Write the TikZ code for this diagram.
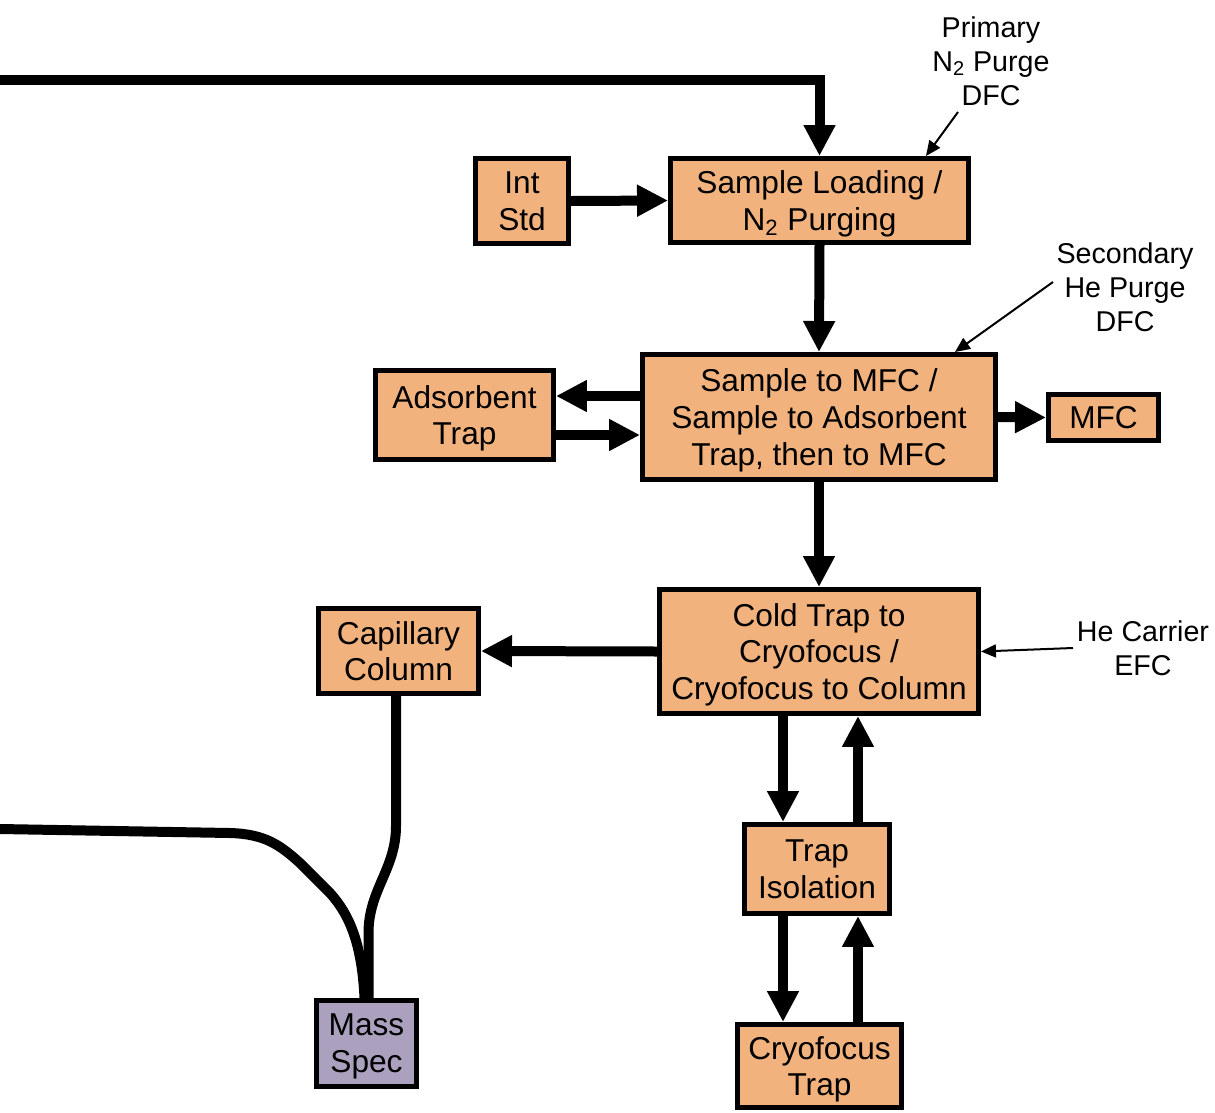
\documentclass[tikz,border=0pt]{standalone}
\usepackage{fontspec}
\setmainfont{Liberation Sans}
\usetikzlibrary{positioning}
\usetikzlibrary{arrows.meta}
\usetikzlibrary{calc}
\definecolor{orangefill}{RGB}{241,178,125}
\definecolor{purplefill}{RGB}{171,160,189}
\begin{document}
\begin{tikzpicture}
	[x=0.02cm, y=-0.02cm,
	stage/.style={draw, line width=0.1cm, fill=orangefill, inner sep=0pt, align=center, font=\fontsize{18}{21}\selectfont, text depth=-0.8pt},
	detector/.style={stage, fill=purplefill},
	note/.style={align=center, inner sep=0pt, font=\fontsize{16.3}{19.3}\selectfont},
	flow/.style={line width=0.2cm, -{Triangle[length=0.62cm,width=0.6cm]}},
	pipe/.style={line width=0.2cm},
	gas/.style={line width=0.04cm, -{Triangle[length=0.3cm,width=0.26cm]}}]

\useasboundingbox (0,0) rectangle (1215,1113);

\node [stage, minimum width=1.86cm, minimum height=1.70cm] (intstd) at (522,201) {Int\\Std};
\node [stage, minimum width=5.96cm, minimum height=1.68cm] (load) at (819.5,200.5) {Sample Loading /\\N\textsubscript{2} Purging};
\node [stage, minimum width=3.56cm, minimum height=1.78cm] (adsorb) at (464.5,415) {Adsorbent\\Trap};
\node [stage, minimum width=7.06cm, minimum height=2.50cm] (sampmfc) at (819,417) {Sample to MFC /\\Sample to Adsorbent\\Trap, then to MFC};
\node [stage, minimum width=2.20cm, minimum height=0.92cm] (mfc) at (1103.5,417.5) {MFC};
\node [stage, minimum width=6.38cm, minimum height=2.48cm] (cold) at (819,651.5) {Cold Trap to\\Cryofocus /\\Cryofocus to Column};
\node [stage, minimum width=3.20cm, minimum height=1.70cm] (capcol) at (398.5,651) {Capillary\\Column};
\node [stage, minimum width=2.90cm, minimum height=1.78cm] (trapiso) at (817,869) {Trap\\Isolation};
\node [stage, minimum width=3.28cm, minimum height=1.66cm] (cryo) at (819.5,1066) {Cryofocus\\Trap};
\node [detector, minimum width=2.00cm, minimum height=1.72cm] (ms) at (366.5,1043.5) {Mass\\Spec};

\node [note] (prim) at (991,61) {Primary\\N\textsubscript{2} Purge\\DFC};
\node [note] (sec) at (1125,287) {Secondary\\He Purge\\DFC};
\node [note] (carrier) at (1143,648) {He Carrier\\EFC};

\coordinate (topin) at (0,80);
\coordinate (msin) at (0,829);
\coordinate (lft) at (0,396);
\coordinate (rgt) at (0,435);
\coordinate (dn) at (783,0);
\coordinate (up) at (858,0);
\coordinate (capout) at (396,0);
\coordinate (primtail) at (958,112);
\coordinate (sectail) at (1053,282);
\coordinate (cartail) at (1073,648);

\draw [flow] (topin) -| (load.north);
\draw [flow] (intstd.east) -- (load.west);
\draw [flow] (load.south) -- (sampmfc.north);
\draw [flow] (sampmfc.west |- lft) -- (adsorb.east |- lft);
\draw [flow] (adsorb.east |- rgt) -- (sampmfc.west |- rgt);
\draw [flow] (sampmfc.east) -- (mfc.west);
\draw [flow] (sampmfc.south) -- (cold.north);
\draw [flow] (cold.west) -- (capcol.east);
\draw [flow] (cold.south -| dn) -- (trapiso.north -| dn);
\draw [flow] (trapiso.north -| up) -- (cold.south -| up);
\draw [flow] (trapiso.south -| dn) -- (cryo.north -| dn);
\draw [flow] (cryo.north -| up) -- (trapiso.south -| up);

\draw [pipe] (capcol.south -| capout) -- ++(0,130) to[out=-90,in=90] ($(ms.north)+(2,-65)$) -- ($(ms.north)+(2,0)$);
\draw [pipe] (msin) -- (230,833) .. controls (265,834) and (280,845) .. (300,863) -- (330,893) .. controls (350,915) and (362,945) .. ($(ms.north)+(-2,0)$);

\draw [gas] (primtail) -- ($(load.north east)+(-45,0)$);
\draw [gas] (sectail) -- ($(sampmfc.north east)+(-43,0)$);
\draw [gas] (cartail) -- (cold.east);

\end{tikzpicture}
\end{document}
